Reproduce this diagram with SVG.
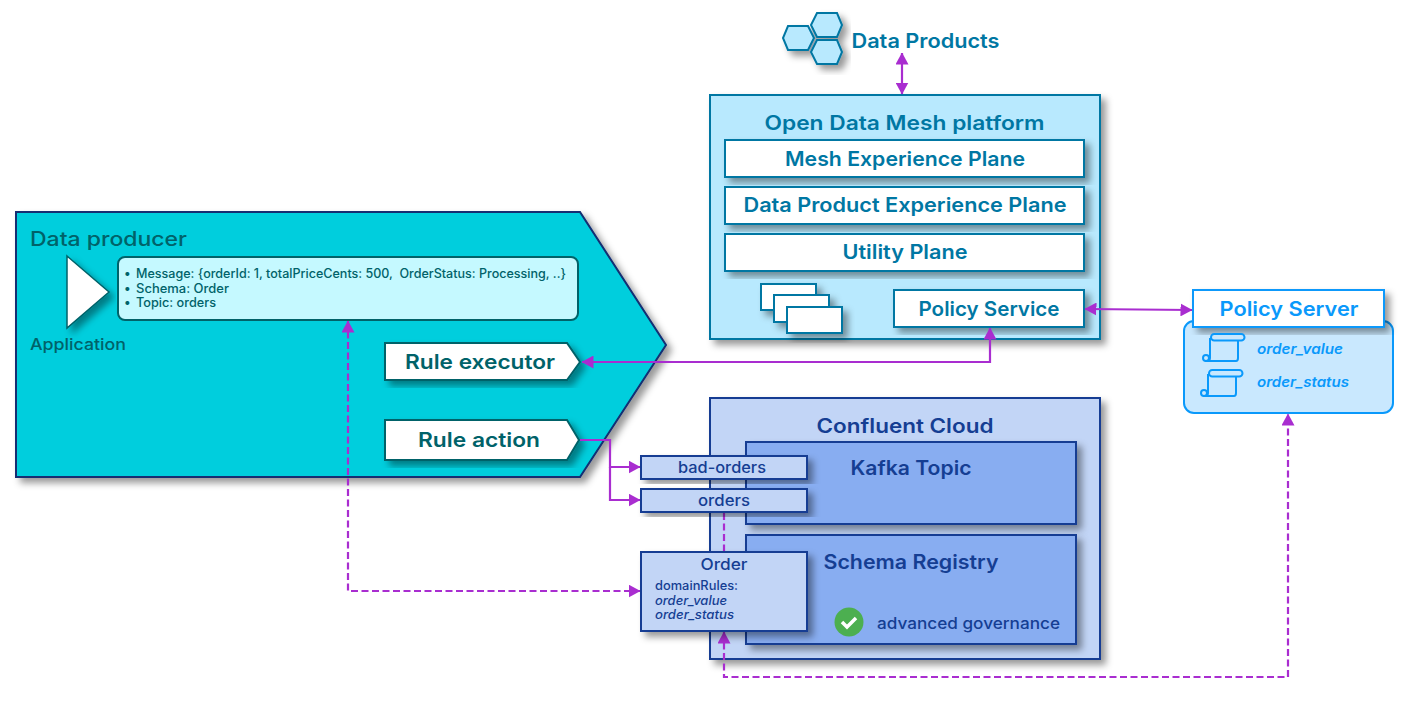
<svg xmlns="http://www.w3.org/2000/svg" width="1404" height="709" viewBox="0 0 1404 709">
<style>
text{font-family:"Inter","Noto Sans","Liberation Sans",sans-serif;font-weight:600;text-anchor:middle}
.l{text-anchor:start}
.m{font-weight:500}
.odm{fill:#b8e9fe;stroke:#0077a3;stroke-width:2}
.w{fill:#fff;stroke:#0077a3;stroke-width:2}
.tb{fill:#0077a3;font-size:20px}
.cc{fill:#c2d5f6;stroke:#153e93;stroke-width:2}
.ka{fill:#88adf1;stroke:#153e93;stroke-width:2}
.tc{fill:#153e93}
.tg{fill:#006269}
.wg{fill:#fff;stroke:#006269;stroke-width:2}
.ps{fill:#0a99fb}
.sc{fill:none;stroke:#0a99fb;stroke-width:2;stroke-linejoin:round}
.c{fill:none;stroke:#a92dd0;stroke-width:2.200}
.d{stroke-dasharray:7 3.500}
</style>
<defs>
<filter id="s" x="-10%" y="-10%" width="125%" height="130%"><feDropShadow dx="5" dy="5" stdDeviation="3.500" flood-color="#000" flood-opacity=".4"/></filter>
<marker id="a" viewBox="0 0 12 13" refX="11.500" refY="6.500" markerWidth="12" markerHeight="13" markerUnits="userSpaceOnUse" orient="auto-start-reverse"><path d="M0 0L12 6.500L0 13Z" fill="#a92dd0"/></marker>
</defs>
<g id="data-products">
<g filter="url(#s)"><path class="odm" d="M817 13H837L842 25L837 37H817L811 25Z M788 26H808L814 38L808 50H788L783 38Z M817 40H837L842 52L837 64H817L811 52Z"/></g>
<text class="tb" x="925.500" y="48" textLength="148" lengthAdjust="spacingAndGlyphs">Data Products</text>
</g>
<g id="odm-platform">
<rect class="odm" x="710" y="95" width="390" height="244" filter="url(#s)"/>
<text class="tb" x="904.500" y="130" textLength="280" lengthAdjust="spacingAndGlyphs">Open Data Mesh platform</text>
</g>
<g id="mesh-plane"><rect class="w" x="725" y="140" width="359" height="37" filter="url(#s)"/><text class="tb" x="905" y="166" textLength="240" lengthAdjust="spacingAndGlyphs">Mesh Experience Plane</text></g>
<g id="dp-plane"><rect class="w" x="725" y="187" width="359" height="37" filter="url(#s)"/><text class="tb" x="905" y="212" textLength="323" lengthAdjust="spacingAndGlyphs">Data Product Experience Plane</text></g>
<g id="utility-plane"><rect class="w" x="725" y="234" width="359" height="37" filter="url(#s)"/><text class="tb" x="905" y="259" textLength="125" lengthAdjust="spacingAndGlyphs">Utility Plane</text></g>
<g id="stack" filter="url(#s)"><rect class="w" x="761" y="284" width="55" height="26"/><rect class="w" x="774" y="295" width="55" height="27"/><rect class="w" x="787" y="307" width="55" height="26"/></g>
<g id="policy-service"><rect class="w" x="894" y="290" width="190" height="37" filter="url(#s)"/><text class="tb" x="989" y="316" textLength="141" lengthAdjust="spacingAndGlyphs">Policy Service</text></g>
<g id="data-producer">
<path d="M16 212H580L666 345L580 477H16Z" fill="#00cedd" stroke="#122f72" stroke-width="2" filter="url(#s)"/>
<text class="l m" x="30" y="246" fill="#006269" font-size="20" textLength="157" lengthAdjust="spacingAndGlyphs">Data producer</text>
</g>
<g id="application">
<path d="M67 256L109 292L67 328Z" fill="#fff" stroke="#006269" stroke-width="1.500" filter="url(#s)"/>
<text class="l tg m" x="30" y="350" font-size="16" textLength="96" lengthAdjust="spacingAndGlyphs">Application</text>
</g>
<g id="message">
<rect x="118" y="257" width="460" height="63" rx="7" fill="#c5f9ff" stroke="#006269" stroke-width="2"/>
<text class="l tg m" font-size="12.500" x="124" y="278">•</text><text class="l tg m" font-size="12.500" x="136" y="278" textLength="430" lengthAdjust="spacingAndGlyphs" xml:space="preserve">Message: {orderId: 1, totalPriceCents: 500,  OrderStatus: Processing, ..}</text>
<text class="l tg m" font-size="12.500" x="124" y="293">•</text><text class="l tg m" font-size="12.500" x="136" y="293" textLength="93" lengthAdjust="spacingAndGlyphs">Schema: Order</text>
<text class="l tg m" font-size="12.500" x="124" y="307">•</text><text class="l tg m" font-size="12.500" x="136" y="307" textLength="80" lengthAdjust="spacingAndGlyphs">Topic: orders</text>
</g>
<g id="rule-executor"><path class="wg" d="M385 343H567L580 362L567 380H385Z" filter="url(#s)"/><text class="tg" x="480" y="369" font-size="20" textLength="150" lengthAdjust="spacingAndGlyphs">Rule executor</text></g>
<g id="rule-action"><path class="wg" d="M385 420H567L579 440L567 460H385Z" filter="url(#s)"/><text class="tg" x="479" y="447" font-size="20" textLength="122" lengthAdjust="spacingAndGlyphs">Rule action</text></g>
<g id="confluent-cloud">
<rect class="cc" x="710" y="398" width="390" height="261" filter="url(#s)"/>
<text class="tc" x="905" y="433" font-size="20" textLength="177" lengthAdjust="spacingAndGlyphs">Confluent Cloud</text>
</g>
<g id="kafka-topic"><rect class="ka" x="746" y="442" width="330" height="82" filter="url(#s)"/><text class="tc" x="911" y="475" font-size="20" textLength="121" lengthAdjust="spacingAndGlyphs">Kafka Topic</text></g>
<g id="schema-registry"><rect class="ka" x="746" y="535" width="330" height="109" filter="url(#s)"/><text class="tc" x="911" y="569" font-size="20" textLength="175" lengthAdjust="spacingAndGlyphs">Schema Registry</text>
<circle cx="849" cy="622" r="14.500" fill="#4caf50"/><path d="M842 622l5 5l9-9" fill="none" stroke="#fff" stroke-width="3.500"/>
<text class="l tc m" x="877" y="629" font-size="16" textLength="183" lengthAdjust="spacingAndGlyphs">advanced governance</text></g>
<g id="connectors">
<path class="c" d="M902 53V94" marker-start="url(#a)" marker-end="url(#a)"/>
<path class="c" d="M1085 309L1192 310" marker-start="url(#a)" marker-end="url(#a)"/>
<path class="c" d="M582 362H990V328" marker-start="url(#a)" marker-end="url(#a)"/>
<path class="c" d="M580 440H610V467H640" marker-end="url(#a)"/>
<path class="c" d="M610 467V500H640" marker-end="url(#a)"/>
<path class="c d" d="M348 321V591H640" marker-start="url(#a)" marker-end="url(#a)"/>
<path class="c d" d="M724 632V677H1288V414" marker-start="url(#a)" marker-end="url(#a)"/>
<path class="c d" d="M724 513V552"/>
</g>
<g id="bad-orders"><rect class="cc" x="641" y="456" width="166" height="23" filter="url(#s)"/><text class="tc m" x="722" y="473" font-size="15.500" textLength="88" lengthAdjust="spacingAndGlyphs">bad-orders</text></g>
<g id="orders"><rect class="cc" x="641" y="489" width="166" height="23" filter="url(#s)"/><text class="tc m" x="724" y="506" font-size="15.500" textLength="52" lengthAdjust="spacingAndGlyphs">orders</text></g>
<g id="order-schema"><rect class="cc" x="641" y="552" width="166" height="79" filter="url(#s)"/>
<text class="tc m" x="724" y="570" font-size="16" textLength="47" lengthAdjust="spacingAndGlyphs">Order</text>
<text class="l tc m" x="655" y="590" font-size="12.500" textLength="83" lengthAdjust="spacingAndGlyphs">domainRules:</text>
<text class="l tc m" x="655" y="605" font-size="12.500" font-style="italic" textLength="72" lengthAdjust="spacingAndGlyphs">order_value</text>
<text class="l tc m" x="655" y="619" font-size="12.500" font-style="italic" textLength="79" lengthAdjust="spacingAndGlyphs">order_status</text></g>
<g id="policy-server">
<rect x="1184" y="321" width="209" height="92" rx="10" fill="#c9e8fe" stroke="#0a99fb" stroke-width="2"/>
<rect x="1193" y="290" width="191" height="37" fill="#fff" stroke="#0a99fb" stroke-width="2" filter="url(#s)"/>
<text class="ps" x="1289" y="316" font-size="20" textLength="139" lengthAdjust="spacingAndGlyphs">Policy Server</text>
<g id="scroll-1"><rect class="sc" x="1211" y="334" width="33.500" height="6.500" rx="3.250"/><circle class="sc" cx="1206" cy="358" r="3"/><path class="sc" d="M1210 338V358Q1210 361 1206 361H1236Q1238 361 1238 358V341"/></g>
<g id="scroll-2"><rect class="sc" x="1209" y="370" width="33.500" height="6.500" rx="3.250"/><circle class="sc" cx="1204" cy="393" r="3"/><path class="sc" d="M1208 374V393Q1208 396 1204 396H1234Q1236 396 1236 393V377"/></g>
<text class="l ps" x="1257" y="354" font-size="14" font-style="italic" textLength="86" lengthAdjust="spacingAndGlyphs">order_value</text>
<text class="l ps" x="1257" y="387" font-size="14" font-style="italic" textLength="92" lengthAdjust="spacingAndGlyphs">order_status</text>
</g>
</svg>
